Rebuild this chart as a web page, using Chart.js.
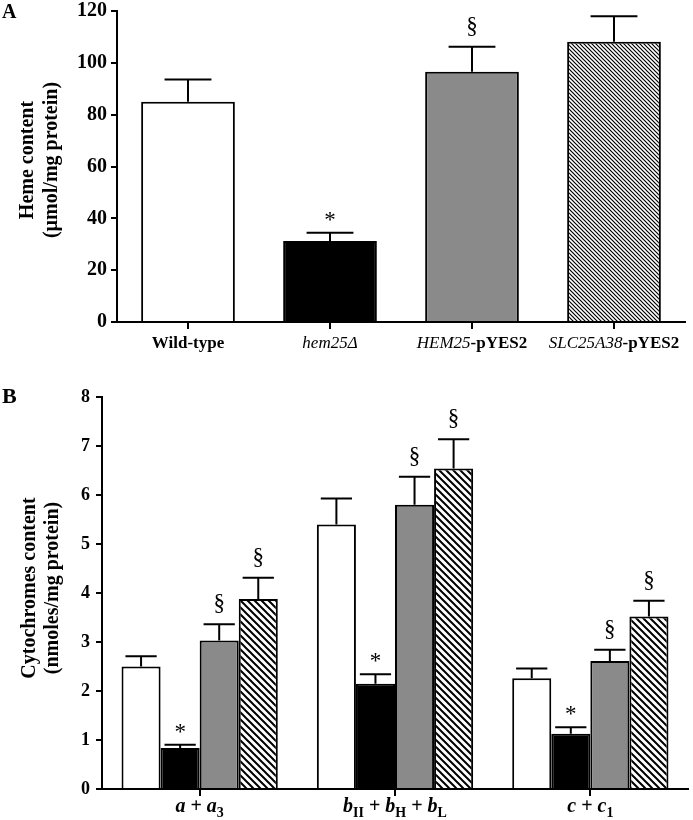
<!DOCTYPE html>
<html>
<head>
<meta charset="utf-8">
<script src="https://cdn.jsdelivr.net/npm/chart.js@4"></script>
<style>
  html, body { margin: 0; padding: 0; background: #fff; }
  body { width: 693px; height: 820px; position: relative; overflow: hidden; }
  canvas { position: absolute; left: 0; }
</style>
</head>
<body>
<canvas id="chartA" width="693" height="360" style="top:0"></canvas>
<canvas id="chartB" width="693" height="460" style="top:360px"></canvas>
<script>
// Panel A - heme content
const strains = ['Wild-type', 'hem25Δ', 'HEM25-pYES2', 'SLC25A38-pYES2'];
const hemeMean = [85, 31.3, 96.6, 108.1];
const hemeErr = [8.6, 3.1, 9.6, 9.9];
const hemeMarks = ['', '*', '§', ''];
const hemeTicks = [0, 20, 40, 60, 80, 100, 120];

// Panel B - cytochromes content
const cytGroups = ['a + a3', 'bII + bH + bL', 'c + c1'];
const cytWild = [2.50, 5.40, 2.26];
const cytWildErr = [0.21, 0.53, 0.20];
const cytHem25 = [0.835, 2.15, 1.13];
const cytHem25Err = [0.07, 0.19, 0.13];
const cytHEM25 = [3.03, 5.80, 2.61];
const cytHEM25Err = [0.33, 0.57, 0.23];
const cytSLC = [3.88, 6.54, 3.52];
const cytSLCErr = [0.43, 0.60, 0.32];
const cytMarks = [['', '', ''], ['*', '*', '*'], ['§', '§', '§'], ['§', '§', '§']];
const cytTicks = [0, 1, 2, 3, 4, 5, 6, 7, 8];

const FONT = "'Liberation Serif', 'Times New Roman', serif";
const GRAY = '#8a8a8a';

// how the x labels are typeset (italics / subscripts)
const runsA = [
    [['Wild-type', 'bold']],
    [['hem25Δ', 'italic']],
    [['HEM25', 'italic'], ['-pYES2', 'bold']],
    [['SLC25A38', 'italic'], ['-pYES2', 'bold']]
];
const runsB = [
    [['a', 'italic bold'], [' + ', 'bold'], ['a', 'italic bold'], ['3', 'bold', true]],
    [['b', 'italic bold'], ['II', 'bold', true], [' + ', 'bold'], ['b', 'italic bold'], ['H', 'bold', true], [' + ', 'bold'], ['b', 'italic bold'], ['L', 'bold', true]],
    [['c', 'italic bold'], [' + ', 'bold'], ['c', 'italic bold'], ['1', 'bold', true]]
];

const hatch = (size, lw) => {
    const c = document.createElement('canvas');
    c.width = c.height = size;
    const g = c.getContext('2d');
    g.fillStyle = '#fff';
    g.fillRect(0, 0, size, size);
    g.strokeStyle = '#000';
    g.lineWidth = lw;
    g.beginPath();
    g.moveTo(-1, -1); g.lineTo(size + 1, size + 1);
    g.moveTo(-1, size - 1); g.lineTo(1, size + 1);
    g.moveTo(size - 1, -1); g.lineTo(size + 1, 1);
    g.stroke();
    return g.createPattern(c, 'repeat');
};

const drawRuns = (ctx, runs, cx, baseline, size) => {
    const parts = runs.map(([t, style, sub]) => {
        const fs = sub ? Math.round(size * 0.68) : size;
        const font = `${style} ${fs}px ${FONT}`;
        ctx.font = font;
        return { t, font, w: ctx.measureText(t).width, dy: sub ? size * 0.25 : 0 };
    });
    const total = parts.reduce((a, p) => a + p.w, 0);
    let x = cx - total / 2;
    ctx.textAlign = 'left';
    ctx.textBaseline = 'alphabetic';
    parts.forEach(p => {
        ctx.font = p.font;
        ctx.fillText(p.t, x, baseline + p.dy);
        x += p.w;
    });
};

// error bars, significance marks, x labels, y title, panel letter
const extrasPlugin = (cfg) => ({
    id: 'extras',
    afterDatasetsDraw(chart) {
        const ctx = chart.ctx;
        const yScale = chart.scales.y;
        const xScale = chart.scales.x;
        ctx.save();
        ctx.strokeStyle = '#000';
        ctx.fillStyle = '#000';
        ctx.lineWidth = 2;
        chart.data.datasets.forEach((ds, di) => {
            const meta = chart.getDatasetMeta(di);
            meta.data.forEach((bar, i) => {
                const yBar = yScale.getPixelForValue(ds.data[i]);
                const yTop = yScale.getPixelForValue(ds.data[i] + cfg.errs[di][i]);
                const cap = bar.width * cfg.capRatio / 2;
                ctx.beginPath();
                ctx.moveTo(bar.x, yBar);
                ctx.lineTo(bar.x, yTop);
                ctx.moveTo(bar.x - cap, yTop);
                ctx.lineTo(bar.x + cap, yTop);
                ctx.stroke();
                const m = cfg.marks[di][i];
                if (m) {
                    ctx.font = `${cfg.markSize}px ${FONT}`;
                    ctx.textAlign = 'center';
                    ctx.textBaseline = 'alphabetic';
                    ctx.fillText(m, bar.x, yTop - (m === '*' ? 6 : 14));
                }
            });
        });

        cfg.runs.forEach((runs, i) => {
            drawRuns(ctx, runs, xScale.getPixelForTick(i), cfg.labelY, cfg.labelSize);
        });

        ctx.font = `bold ${cfg.titleSize}px ${FONT}`;
        ctx.textAlign = 'center';
        ctx.textBaseline = 'middle';
        cfg.title.forEach((line, k) => {
            ctx.save();
            ctx.translate(cfg.titleX[k], cfg.titleY);
            ctx.rotate(-Math.PI / 2);
            ctx.fillText(line, 0, 0);
            ctx.restore();
        });

        ctx.font = `bold ${cfg.letterSize}px ${FONT}`;
        ctx.textAlign = 'left';
        ctx.textBaseline = 'alphabetic';
        ctx.fillText(cfg.letter, 2, cfg.letterY);
        ctx.restore();
    }
});

const makeScales = (ticks, yWidth, xHeight, tickSize, tickPad) => ({
    x: {
        border: { color: '#000', width: 2 },
        grid: { drawOnChartArea: false, offset: false, color: '#000', lineWidth: 2, tickLength: 7 },
        ticks: { display: false },
        afterFit: s => { s.height = xHeight; }
    },
    y: {
        min: ticks[0],
        max: ticks[ticks.length - 1],
        border: { color: '#000', width: 2 },
        grid: { drawOnChartArea: false, color: '#000', lineWidth: 2, tickLength: 6 },
        ticks: { color: '#000', padding: tickPad, font: { family: FONT, size: tickSize, weight: 'bold', lineHeight: 0.7 } },
        afterBuildTicks: s => { s.ticks = ticks.map(v => ({ value: v })); },
        afterFit: s => { s.width = yWidth; }
    }
});

const baseOptions = {
    responsive: false,
    animation: false,
    events: [],
    plugins: { legend: { display: false }, tooltip: { enabled: false } }
};

new Chart(document.getElementById('chartA'), {
    type: 'bar',
    data: {
        labels: strains,
        datasets: [{
            data: hemeMean,
            backgroundColor: ['#ffffff', '#000000', GRAY, hatch(4, 1.2)],
            borderColor: '#000',
            borderWidth: 2,
            categoryPercentage: 0.66,
            barPercentage: 1
        }]
    },
    options: {
        ...baseOptions,
        layout: { padding: { top: 7, right: 8, left: 0, bottom: 0 } },
        scales: makeScales(hemeTicks, 117, 38, 20, 4)
    },
    plugins: [extrasPlugin({
        errs: [hemeErr], marks: [hemeMarks], capRatio: 0.5, markSize: 23,
        runs: runsA, labelY: 348, labelSize: 17,
        title: ['Heme content', '(µmol/mg protein)'], titleX: [28, 52], titleY: 160, titleSize: 20,
        letter: 'A', letterY: 18, letterSize: 20
    })]
});

const patB = hatch(7, 2);
const ds = (data, color) => ({
    data, backgroundColor: color, borderColor: '#000', borderWidth: 2,
    categoryPercentage: 0.8, barPercentage: 1
});

new Chart(document.getElementById('chartB'), {
    type: 'bar',
    data: {
        labels: cytGroups,
        datasets: [
            ds(cytWild, '#ffffff'),
            ds(cytHem25, '#000000'),
            ds(cytHEM25, GRAY),
            ds(cytSLC, patB)
        ]
    },
    options: {
        ...baseOptions,
        layout: { padding: { top: 37, right: 5, left: 0, bottom: 0 } },
        scales: makeScales(cytTicks, 102, 31, 18, 6)
    },
    plugins: [extrasPlugin({
        errs: [cytWildErr, cytHem25Err, cytHEM25Err, cytSLCErr], marks: cytMarks, capRatio: 0.8, markSize: 23,
        runs: runsB, labelY: 452, labelSize: 20,
        title: ['Cytochromes content', '(nmoles/mg protein)'], titleX: [30, 53], titleY: 228, titleSize: 20,
        letter: 'B', letterY: 43, letterSize: 22
    })]
});
</script>
</body>
</html>
